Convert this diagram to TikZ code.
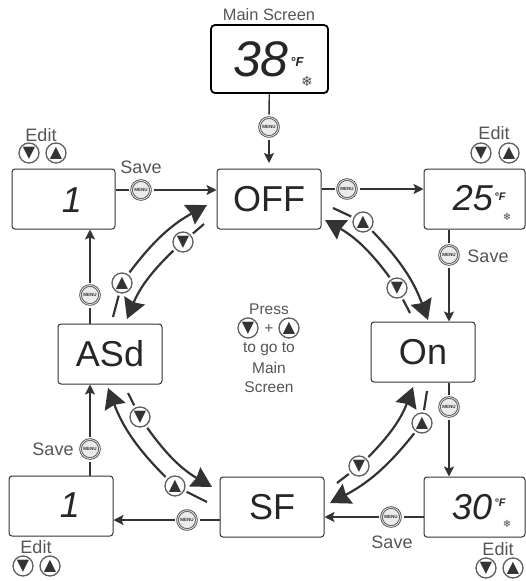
\documentclass[tikz,border=0pt]{standalone}
\usepackage{fontspec}
\setmainfont{Liberation Sans}
\newfontfamily\symfont{DejaVu Sans}
\usetikzlibrary{arrows.meta}
\definecolor{inkgray}{HTML}{333333}
\definecolor{labelgray}{HTML}{555555}
\definecolor{ringgray}{HTML}{5E5E5E}

\begin{document}
\begin{tikzpicture}[
  x=1pt, y=-1pt,
  screen/.style={rectangle, draw=inkgray, fill=white, rounded corners=3pt, line width=1pt, inner sep=0pt},
  mainscreen/.style={screen, draw=black, rounded corners=4pt, line width=1.8pt},
  state/.style={text=black!85, font=\fontsize{36}{36}\selectfont},
  reading/.style={text=black!85, font=\fontsize{36}{36}\selectfont\itshape},
  unit/.style={text=black!85, font=\fontsize{11}{11}\selectfont\bfseries\itshape, inner sep=0pt},
  snow/.style={text=black!70, font=\symfont\fontsize{10}{10}\selectfont, inner sep=0pt},
  caption/.style={text=labelgray, font=\fontsize{18}{18}\selectfont, inner sep=0pt},
  press/.style={text=labelgray, font=\fontsize{15.5}{15.5}\selectfont, inner sep=0pt},
  btn/.style={circle, draw=ringgray, line width=1.3pt, fill=white, minimum size=20pt, inner sep=0pt, outer sep=3pt,
              text=inkgray, font=\symfont\fontsize{16}{16}\selectfont},
  menu/.style={btn, line width=1pt, text=black!80, fill=black!8, double=white, double distance=0.6pt, minimum size=19pt,
               font=\fontsize{4.5}{4.5}\selectfont\bfseries},
  link/.style={inkgray, line width=1.4pt},
  arrow/.style={link, -{Stealth[length=10pt, width=10pt, inset=2pt]}},
  stub/.style={inkgray, line width=2.2pt},
  bigarc/.style={stub, -{Stealth[length=20pt, width=22pt, inset=2pt]}},
]
\useasboundingbox (0,0) rectangle (525,581);

\node[mainscreen, minimum width=117pt, minimum height=68pt] at (269.5,59)  (main)  {};
\node[screen, minimum width=103pt, minimum height=60pt]     at (63.5,199)  (editA) {};
\node[screen, minimum width=104pt, minimum height=60pt]     at (269,199)   (off)   {};
\node[screen, minimum width=101pt, minimum height=60pt]     at (474.5,199) (editB) {};
\node[screen, minimum width=104pt, minimum height=60pt]     at (423,352)   (on)    {};
\node[screen, minimum width=101pt, minimum height=60pt]     at (474.5,507) (editC) {};
\node[screen, minimum width=104pt, minimum height=60pt]     at (272,507)   (sf)    {};
\node[screen, minimum width=104pt, minimum height=60pt]     at (61,506)    (editD) {};
\node[screen, minimum width=104pt, minimum height=60pt]     at (110,354)   (asd)   {};

\node[state] at (269,199) (offText) {OFF};
\node[state] at (423,352) (onText)  {On};
\node[state] at (272,507) (sfText)  {SF};
\node[state] at (110,354) (asdText) {ASd};

\node[reading, font=\fontsize{50}{50}\selectfont\itshape] at (261,59) (mainVal) {38};
\node[unit, font=\fontsize{13}{13}\selectfont\bfseries\itshape] at (297,62) (mainUnit) {°F};
\node[snow, font=\symfont\fontsize{14}{14}\selectfont] at (307,81) (mainSnow) {❄};
\node[reading] at (72,200)  (oneA)  {1};
\node[reading] at (70,505)  (oneD)  {1};
\node[reading] at (473,198) (valB)  {25};
\node[unit]    at (500,197) (unitB) {°F};
\node[snow]    at (507,217) (snowB) {❄};
\node[reading] at (472,507) (valC)  {30};
\node[unit]    at (500,503) (unitC) {°F};
\node[snow]    at (507,524) (snowC) {❄};

\node[caption, font=\fontsize{16.4}{16.4}\selectfont] at (269,15) (mainCap) {Main Screen};
\node[caption] at (41,135)  (editCapA) {Edit};
\node[caption] at (494,133) (editCapB) {Edit};
\node[caption] at (498,549) (editCapC) {Edit};
\node[caption] at (36,547)  (editCapD) {Edit};
\node[caption] at (141,167) (saveA) {Save};
\node[caption] at (488,256) (saveB) {Save};
\node[caption] at (392,542) (saveC) {Save};
\node[caption] at (53,449)  (saveD) {Save};

\node[btn] at (29,153)  (dnA) {▼};
\node[btn] at (56,153)  (upA) {▲};
\node[btn] at (481,153) (dnB) {▼};
\node[btn] at (509,153) (upB) {▲};
\node[btn] at (486,568) (dnC) {▼};
\node[btn] at (513,568) (upC) {▲};
\node[btn] at (23,566)  (dnD) {▼};
\node[btn] at (50,566)  (upD) {▲};

\node[press] at (269,309) (pressTop) {Press};
\node[btn]   at (248,328) (dnPress)  {▼};
\node[press] at (269,329) (plus)     {+};
\node[btn]   at (289,328) (upPress)  {▲};
\node[press] at (269,349) (pressGo)  {to go to};
\node[press] at (269,368) (pressMain) {Main};
\node[press] at (269,387) (pressScreen) {Screen};

\node[menu] at (269,127) (menuMain) {MENU};
\node[menu] at (141,190) (menuA)    {MENU};
\node[menu] at (347,189) (menuOff)  {MENU};
\node[menu] at (449,255) (menuB)    {MENU};
\node[menu] at (449,407) (menuOn)   {MENU};
\node[menu] at (391,517) (menuC)    {MENU};
\node[menu] at (187,520) (menuSf)   {MENU};
\node[menu] at (90,449)  (menuD)    {MENU};
\node[menu] at (90,295)  (menuAsd)  {MENU};

\node[btn] at (363,222) (upOffOn)  {▲};
\node[btn] at (397,288) (dnOnOff)  {▼};
\node[btn] at (422,423) (upOnSf)   {▲};
\node[btn] at (359,466) (dnSfOn)   {▼};
\node[btn] at (175,486) (upSfAsd)  {▲};
\node[btn] at (140,417) (dnAsdSf)  {▼};
\node[btn] at (122,283) (upAsdOff) {▲};
\node[btn] at (183,242) (dnOffAsd) {▼};

\coordinate (tipOffOn)   at (428,320);
\coordinate (tipOnOff)   at (325,220);
\coordinate (tipOnSf)    at (330,503);
\coordinate (tipSfOn)    at (413,387);
\coordinate (tipSfAsd)   at (108,388);
\coordinate (tipAsdSf)   at (212,487);
\coordinate (tipAsdOff)  at (207,205);
\coordinate (tipOffAsd)  at (127,319);
\coordinate (tailOffOn)  at (333,208);
\coordinate (tailOnOff)  at (410,313);
\coordinate (tailOnSf)   at (427,391);
\coordinate (tailSfOn)   at (337,483);
\coordinate (tailSfAsd)  at (207,502);
\coordinate (tailAsdSf)  at (128,393);
\coordinate (tailAsdOff) at (113,317);
\coordinate (tailOffAsd) at (204,224);
\coordinate (tipMain)    at (269,163);

\draw[link]  (main) -- (menuMain);
\draw[arrow] (menuMain) -- (tipMain);
\draw[link]  (editA.east |- menuA) -- (menuA);
\draw[arrow] (menuA) -- (menuA -| off.west);
\draw[link]  (off.east |- menuOff) -- (menuOff);
\draw[arrow] (menuOff) -- (menuOff -| editB.west);
\draw[link]  (editB.south -| menuB) -- (menuB);
\draw[arrow] (menuB) -- (menuB |- on.north);
\draw[link]  (on.south -| menuOn) -- (menuOn);
\draw[arrow] (menuOn) -- (menuOn |- editC.north);
\draw[link]  (editC.west |- menuC) -- (menuC);
\draw[arrow] (menuC) -- (menuC -| sf.east);
\draw[link]  (sf.west |- menuSf) -- (menuSf);
\draw[arrow] (menuSf) -- (menuSf -| editD.east);
\draw[link]  (editD.north -| menuD) -- (menuD);
\draw[arrow] (menuD) -- (menuD |- asd.south);
\draw[link]  (asd.north -| menuAsd) -- (menuAsd);
\draw[arrow] (menuAsd) -- (menuAsd |- editA.south);

\draw[stub] (tailOffOn) -- (upOffOn);
\draw[bigarc] (upOffOn) to[bend left=12] (tipOffOn);
\draw[stub] (tailOnOff) -- (dnOnOff);
\draw[bigarc] (dnOnOff) to[bend right=12] (tipOnOff);
\draw[stub] (tailOnSf) -- (upOnSf);
\draw[bigarc] (upOnSf) to[bend left=12] (tipOnSf);
\draw[stub] (tailSfOn) -- (dnSfOn);
\draw[bigarc] (dnSfOn) to[bend right=12] (tipSfOn);
\draw[stub] (tailSfAsd) -- (upSfAsd);
\draw[bigarc] (upSfAsd) to[bend left=12] (tipSfAsd);
\draw[stub] (tailAsdSf) -- (dnAsdSf);
\draw[bigarc] (dnAsdSf) to[bend right=12] (tipAsdSf);
\draw[stub] (tailAsdOff) -- (upAsdOff);
\draw[bigarc] (upAsdOff) to[bend left=12] (tipAsdOff);
\draw[stub] (tailOffAsd) -- (dnOffAsd);
\draw[bigarc] (dnOffAsd) to[bend right=12] (tipOffAsd);
\end{tikzpicture}
\end{document}
